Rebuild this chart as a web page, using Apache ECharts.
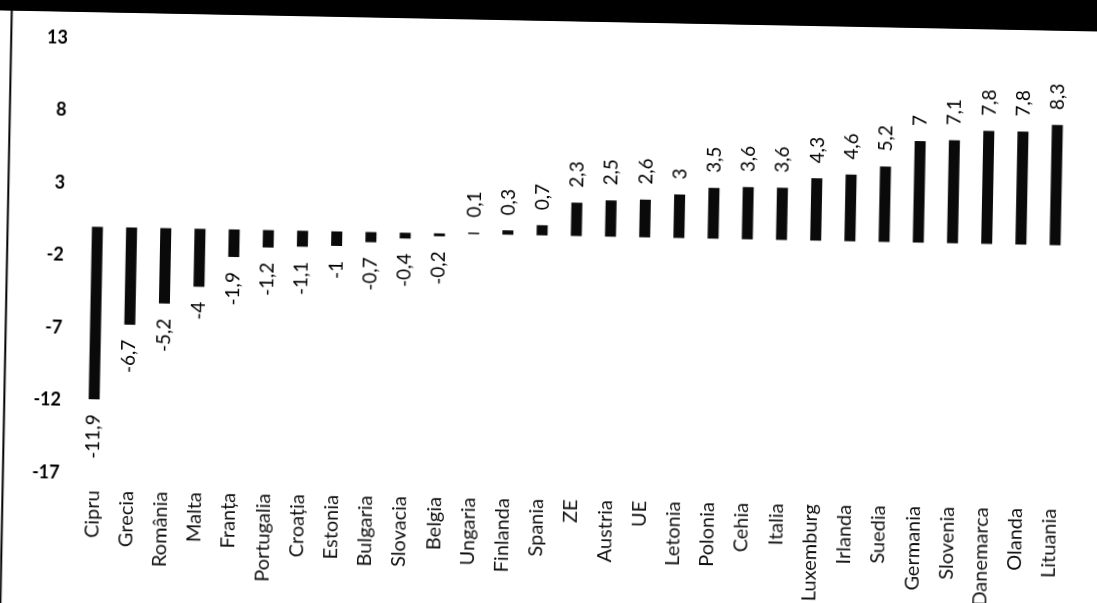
<!DOCTYPE html>
<html>
<head>
<meta charset="utf-8">
<script src="https://cdn.jsdelivr.net/npm/echarts@6/dist/echarts.min.js"></script>
<style>
html,body{margin:0;padding:0;width:1097px;height:603px;overflow:hidden;background:#fff;}
#band{position:absolute;left:0;top:0;width:1097px;height:40px;background:#000;clip-path:polygon(0 0,1097px 0,1097px 31px,0 10px);}
#chart{position:absolute;left:-50px;top:-50px;width:1197px;height:703px;transform:rotate(1.1deg);transform-origin:50% 50%;}
</style>
</head>
<body>
<div id="band"></div>
<div id="chart"></div>
<script>
const categories = ["Cipru","Grecia","România","Malta","Franța","Portugalia","Croația","Estonia","Bulgaria","Slovacia","Belgia","Ungaria","Finlanda","Spania","ZE","Austria","UE","Letonia","Polonia","Cehia","Italia","Luxemburg","Irlanda","Suedia","Germania","Slovenia","Danemarca","Olanda","Lituania"];
const values = [-11.9,-6.7,-5.2,-4,-1.9,-1.2,-1.1,-1,-0.7,-0.4,-0.2,0.1,0.3,0.7,2.3,2.5,2.6,3,3.5,3.6,3.6,4.3,4.6,5.2,7,7.1,7.8,7.8,8.3];
const yMin = -17, yMax = 13, yStep = 5;

const chart = echarts.init(document.getElementById('chart'), null, {renderer:'canvas'});
const data = values.map(v => ({
  value: v,
  label: { position: v >= 0 ? 'top' : 'bottom', align: v >= 0 ? 'left' : 'right' }
}));
chart.setOption({
  animation: false,
  backgroundColor: 'transparent',
  textStyle: { fontFamily: 'Lato' },
  grid: { left: 129, right: 76, top: 97, bottom: 171, containLabel: false },
  graphic: [
    { type: 'rect', shape: { x: -100, y: -100, width: 1400, height: 171 }, style: { fill: '#000' }, z: 10 },
    { type: 'line', shape: { x1: 56.3, y1: 60, x2: 56.3, y2: 800 }, style: { stroke: '#000', lineWidth: 2 }, z: 10 }
  ],
  xAxis: {
    type: 'category',
    data: categories,
    axisLine: { show: false, onZero: false },
    axisTick: { show: false },
    axisLabel: { rotate: 90, margin: 17, interval: 0, fontFamily: 'Lato', fontSize: 20, color: '#111' }
  },
  yAxis: {
    type: 'value',
    min: yMin, max: yMax, interval: yStep,
    axisLine: { show: false },
    axisTick: { show: false },
    splitLine: { show: false },
    axisLabel: { margin: 16, fontFamily: 'Lato', fontSize: 18, fontWeight: 'bold', color: '#000' }
  },
  series: [{
    type: 'bar',
    data: data,
    barWidth: 11,
    itemStyle: { color: '#0a0a0a' },
    label: {
      show: true,
      rotate: 90,
      distance: 15,
      verticalAlign: 'middle',
      fontFamily: 'Lato',
      fontSize: 19,
      color: '#000',
      formatter: p => String(p.value).replace('.', ',')
    }
  }]
});
</script>
</body>
</html>
